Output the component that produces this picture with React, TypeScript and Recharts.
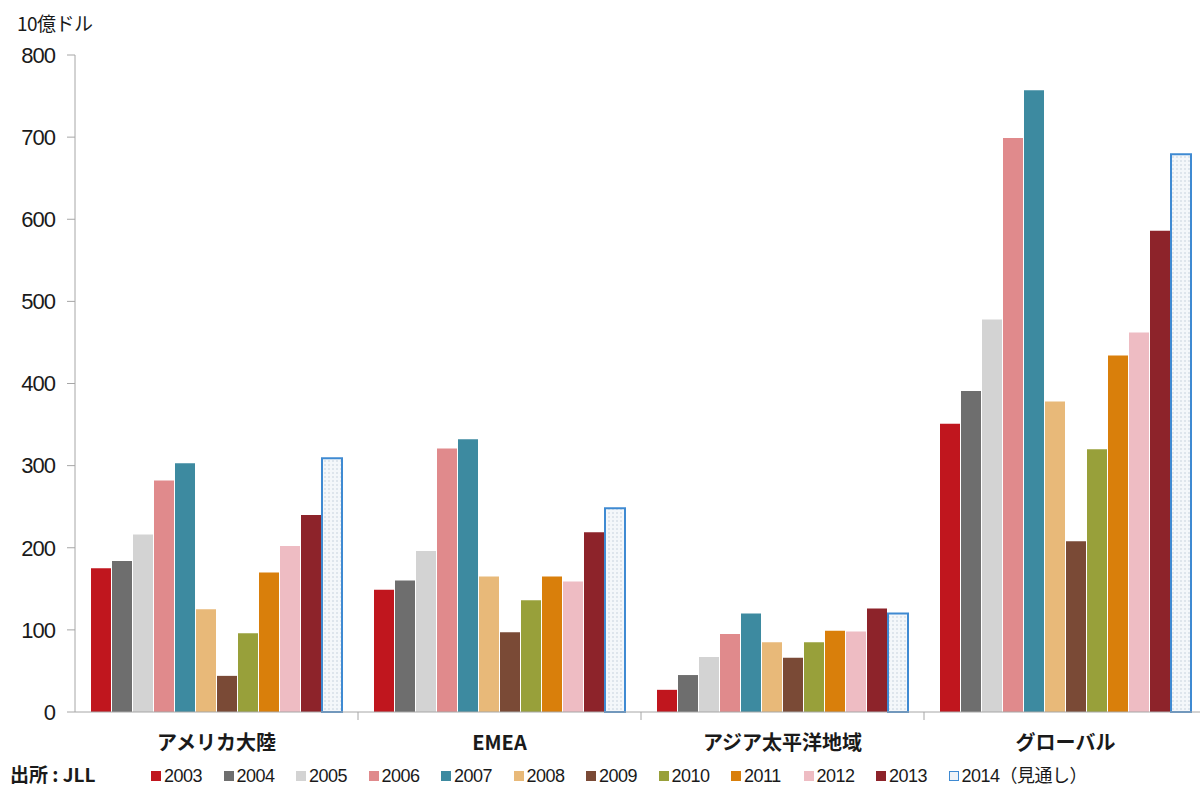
import { BarChart, Bar, XAxis, YAxis } from 'recharts'

const regions = ['アメリカ大陸', 'EMEA', 'アジア太平洋地域', 'グローバル']
const years = ['2003', '2004', '2005', '2006', '2007', '2008', '2009', '2010', '2011', '2012', '2013', '2014']
const yearLabels = ['2003', '2004', '2005', '2006', '2007', '2008', '2009', '2010', '2011', '2012', '2013', '2014（見通し）']
const yTicks = [0, 100, 200, 300, 400, 500, 600, 700, 800]

const americas = [175, 184, 216, 282, 303, 125, 44, 96, 170, 202, 240, 309]
const emea = [149, 160, 196, 321, 332, 165, 97, 136, 165, 159, 219, 248]
const apac = [27, 45, 67, 95, 120, 85, 66, 85, 99, 98, 126, 120]
const global = [351, 391, 478, 699, 757, 378, 208, 320, 434, 462, 586, 679]

const colors = ['#c0161e', '#6e6e6e', '#d3d3d3', '#e08a8c', '#3d8aa0', '#e8b979', '#7a4a36', '#98a03a', '#d97f0b', '#eebcc3', '#8d232a', 'url(#dots)']

const data = regions.map((name, i) => {
  const vals = [americas, emea, apac, global][i]
  const row: Record<string, string | number> = { name }
  years.forEach((y, j) => (row[y] = vals[j]))
  return row
})

const FONT = '"Liberation Sans", Arial, "Noto Sans CJK JP", sans-serif'
const JP = '"Noto Sans CJK JP", "Liberation Sans", sans-serif'
const BAND = 283

function RegionTick({ x, y, payload, index }: any) {
  return (
    <g>
      {index < 3 && (
        <line x1={x + BAND / 2} x2={x + BAND / 2} y1={y - 8} y2={y} stroke="#a6a6a6" />
      )}
      <text x={x} y={y + 30} textAnchor="middle" fontFamily={JP} fontWeight="bold" fontSize={20} fill="#1a1a1a">
        {payload.value}
      </text>
    </g>
  )
}

export default function App() {
  return (
    <div style={{ position: 'absolute', left: 0, top: 0, width: 1200, height: 789, overflow: 'hidden', background: '#fff' }}>
      <div style={{ position: 'absolute', left: 17, top: 9, fontFamily: JP, fontSize: 19, color: '#1a1a1a', letterSpacing: -0.5 }}>10億ドル</div>
      <BarChart
        width={1207}
        height={789}
        data={data}
        margin={{ top: 55, right: 0, bottom: 0, left: 0 }}
        barCategoryGap={16}
        barGap={1}
      >
        <defs>
          <pattern id="dots" width="4" height="4" patternUnits="userSpaceOnUse">
            <rect width="4" height="4" fill="#f4f7fa" />
            <circle cx="1" cy="1" r="0.7" fill="#b9c6d3" />
          </pattern>
        </defs>
        <XAxis
          dataKey="name"
          height={77}
          stroke="#a6a6a6"
          tickLine={false}
          tick={<RegionTick />}
          interval={0}
        />
        <YAxis
          width={75}
          domain={[0, 800]}
          ticks={yTicks}
          stroke="#a6a6a6"
          tickSize={8}
          tick={{ fill: '#1a1a1a', fontSize: 22, fontFamily: FONT, letterSpacing: -1, dx: -10 }}
        />
        {years.map((y, i) => (
          <Bar
            key={y}
            dataKey={y}
            fill={colors[i]}
            stroke={i === 11 ? '#3f8ad2' : undefined}
            strokeWidth={i === 11 ? 2 : 0}
            isAnimationActive={false}
          />
        ))}
      </BarChart>
      <div style={{ position: 'absolute', left: 10, top: 764, lineHeight: '20px', fontFamily: JP, fontWeight: 'bold', fontSize: 19, color: '#1a1a1a', whiteSpace: 'nowrap' }}>
        出所 : JLL
      </div>
      <div style={{ position: 'absolute', left: 151, top: 766, lineHeight: '20px', display: 'flex', fontFamily: FONT, fontSize: 18, color: '#1a1a1a' }}>
        {yearLabels.map((label, i) => (
          <div
            key={label}
            style={{ width: i === 11 ? 'auto' : 72.5, flexShrink: 0, display: 'flex', alignItems: 'center', whiteSpace: 'nowrap' }}
          >
            <span
              style={{
                display: 'inline-block',
                flexShrink: 0,
                width: 10,
                height: 10,
                marginRight: 3,
                background: i === 11 ? '#eef3f8' : colors[i],
                border: i === 11 ? '1.5px solid #3f8ad2' : 'none',
                boxSizing: 'border-box',
              }}
            />
            <span style={{ letterSpacing: -0.5 }}>{label}</span>
          </div>
        ))}
      </div>
    </div>
  )
}
